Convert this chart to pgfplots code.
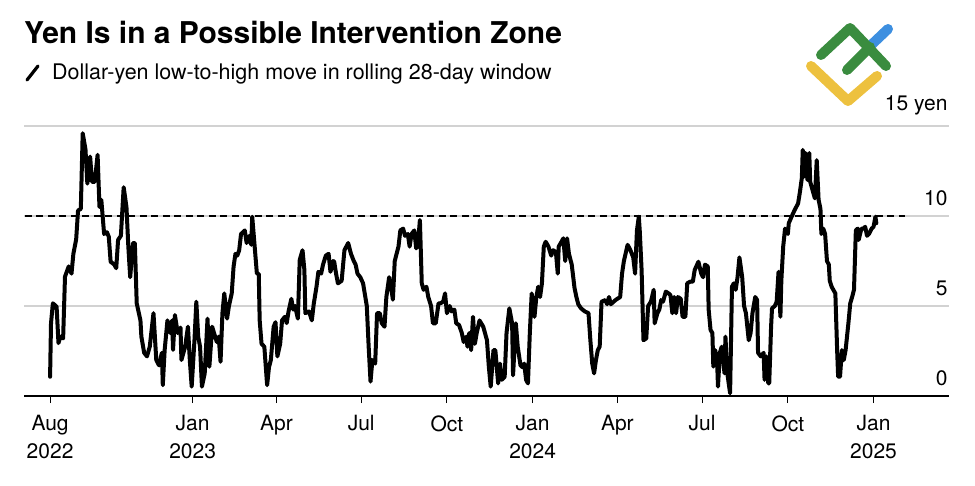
\documentclass[border=0pt]{standalone}
\usepackage{pgfplots}
\pgfplotsset{compat=1.18}
\usepackage{pgfplotstable}
\usepackage{fontspec}
\setmainfont{TeX Gyre Heros}
\definecolor{gridgray}{HTML}{D2D2D2}
\definecolor{logogreen}{HTML}{3A8C3F}
\definecolor{logoblue}{HTML}{3D8FE0}
\definecolor{logoyellow}{HTML}{EDC13F}
\pgfplotstableread{
day val
0 1.07
1 4.05
3 5.15
7 4.96
9 2.94
11 3.3
14 3.2
16 6.63
20 7.2
23 6.8
25 7.9
28 8.7
30 10.3
33 10.4
35 14.6
38 13.7
40 11.8
43 13.3
45 11.9
48 11.9
51 13.4
53 10.5
55 10.9
58 9.0
61 9.1
63 8.85
65 7.46
69 7.3
71 7.1
73 8.67
76 8.9
79 11.6
82 10.5
84 8.3
86 6.6
89 8.5
91 8.5
93 5.15
97 4.2
98 3.3
101 2.4
104 2.2
107 2.74
111 4.6
114 2.0
117 1.7
120 2.4
121 0.6
123 2.56
126 4.2
129 3.5
131 4.2
132 2.56
134 4.5
137 3.5
140 3.8
141 2.0
145 2.74
148 3.85
150 2.0
152 0.52
155 3.1
157 5.24
159 3.3
161 2.74
163 0.52
166 1.26
169 4.3
171 1.63
174 3.85
176 3.5
179 3.0
181 3.3
183 1.9
185 4.6
187 5.7
190 4.3
192 5.0
195 5.7
197 7.2
199 7.9
201 7.8
203 8.1
205 9.0
209 9.2
211 8.5
214 8.9
216 8.4
217 9.96
219 8.7
222 6.8
224 6.8
225 4.2
227 2.9
230 2.74
233 0.6
235 1.6
237 2.0
240 3.85
242 4.1
244 2.2
247 2.9
249 4.2
252 4.4
254 4.05
256 4.7
259 5.4
261 4.8
263 5.0
266 4.3
268 7.56
271 8.1
273 7.0
274 4.6
278 4.7
281 4.2
283 5.1
286 6.07
288 6.9
291 6.8
293 7.3
296 7.8
299 7.9
301 6.9
304 7.5
305 7.46
307 6.8
309 6.26
313 6.4
316 8.1
320 8.5
323 7.9
326 7.5
328 7.3
330 6.8
333 6.6
336 6.26
340 5.0
342 2.74
344 0.8
346 2.0
349 1.8
351 4.6
354 4.6
356 4.05
359 3.85
361 5.5
364 6.6
366 6.07
368 5.35
370 7.5
374 8.3
376 9.2
379 9.3
381 8.9
384 9.0
386 8.3
388 9.0
391 9.2
393 8.2
395 8.5
397 9.78
399 6.26
401 5.9
404 6.07
406 5.5
409 5.0
411 4.04
414 4.04
417 5.15
419 5.15
422 5.24
424 5.7
426 4.6
429 5.0
431 4.7
434 4.8
436 4.04
439 3.95
442 3.5
444 3.0
447 3.3
448 2.74
450 3.5
452 2.55
454 4.4
456 2.9
458 3.5
461 4.2
465 3.85
469 3.1
471 1.63
473 0.52
476 2.55
478 2.55
481 0.7
483 1.8
485 0.9
488 1.07
490 3.5
493 4.87
496 4.04
497 1.15
500 4.04
502 2.74
505 1.7
507 1.6
509 1.8
511 0.9
513 0.7
515 3.5
517 5.7
520 4.4
522 5.5
524 6.07
526 5.5
528 6.26
530 8.3
532 8.57
535 8.3
538 7.8
540 8.1
543 8.0
545 6.8
546 8.3
549 8.57
551 8.76
553 7.5
555 8.76
557 7.9
560 7.3
563 6.0
565 5.5
567 5.1
570 4.87
574 4.7
578 4.6
580 3.1
582 1.8
584 1.26
586 2.0
588 2.55
590 2.74
592 5.24
596 5.33
598 5.1
600 5.5
602 5.1
605 5.24
607 5.33
609 5.4
612 5.5
614 6.8
616 7.5
620 8.4
623 8.1
626 7.7
628 6.8
630 9.2
632 9.96
633 9.2
635 7.0
637 3.1
640 3.2
642 5.0
645 5.24
648 5.9
649 4.04
652 4.6
654 4.8
656 5.33
658 5.24
661 5.8
664 5.7
666 5.6
668 4.6
670 5.5
672 4.6
674 5.5
677 5.4
679 4.4
682 4.4
684 6.26
687 6.35
690 6.35
692 7.0
696 7.46
699 6.8
701 6.6
703 7.3
706 7.2
707 4.8
709 3.67
711 3.5
712 1.63
714 2.55
716 2.0
717 0.52
719 2.4
721 2.74
724 1.26
725 3.3
727 1.26
730 0.15
732 6.07
734 6.26
736 5.9
738 6.6
740 7.7
743 6.6
745 5.0
747 4.6
750 3.1
752 3.5
754 4.6
757 5.5
759 5.33
760 2.4
763 2.2
766 2.4
767 0.9
769 2.2
771 0.7
772 0.7
774 3.85
775 4.87
778 5.0
780 5.24
782 6.9
784 4.4
785 6.4
787 8.3
789 9.3
792 9.0
793 9.6
796 9.96
799 10.3
803 10.7
805 11.35
807 12.1
808 13.67
810 12.2
811 13.5
813 12.0
815 13.5
816 11.9
819 11.35
821 10.98
823 13.1
825 10.9
827 10.4
828 9.0
830 9.3
832 9.0
834 7.5
836 7.3
837 6.4
839 6.07
843 5.7
845 2.4
846 1.07
848 1.07
850 2.55
852 2.0
854 2.55
857 4.04
859 5.15
861 5.5
863 5.9
865 9.2
867 9.3
868 8.67
871 9.3
873 9.3
875 9.4
877 8.9
879 9.0
882 9.3
884 9.4
886 9.96
887 9.6
}\yendata
\begin{document}
\begin{tikzpicture}
\path[use as bounding box] (0pt,0pt) rectangle (975pt,-485pt);
% title and subtitle
\node[anchor=base west, inner sep=0pt, font=\fontsize{30}{36}\selectfont\bfseries] at (24pt,-43pt) {Yen Is in a Possible Intervention Zone};
\draw[line width=3.2pt, line cap=round] (27pt,-80pt) -- (38pt,-66pt);
\node[anchor=base west, inner sep=0pt, font=\fontsize{21.5}{26}\selectfont] at (52pt,-79pt) {Dollar-yen low-to-high move in rolling 28-day window};
% logo
\draw[logoyellow, line width=10pt, line cap=round, line join=round] (811pt,-66pt) -- (848pt,-101pt) -- (877pt,-76pt);
\draw[logoblue, line width=10pt, line cap=round] (868pt,-48pt) -- (888pt,-29pt);
\draw[logogreen, line width=10pt, line cap=round, line join=round] (821pt,-55pt) -- (850pt,-28pt) -- (886pt,-66pt);
\draw[logogreen, line width=10pt, line cap=round] (847pt,-70pt) -- (870pt,-47pt);
\begin{axis}[
  at={(24pt,-396pt)}, anchor=south west,
  scale only axis, width=925pt, height=270pt,
  xmin=-28, xmax=965, ymin=0, ymax=15,
  clip=false,
  axis x line*=bottom, axis y line*=right,
  x axis line style={line width=1.6pt, black},
  y axis line style={draw=none},
  xtick={0,153,243,334,426,518,609,700,792,884},
  xticklabels={{Aug\\2022},{Jan\\2023},Apr,Jul,Oct,{Jan\\2024},Apr,Jul,Oct,{Jan\\2025}},
  xticklabel style={font=\fontsize{21}{27.5}\selectfont, align=center, anchor=north, yshift=-9pt},
  tick align=outside,
  x tick style={line width=1pt, black},
  xtick pos=bottom,
  major tick length=7pt,
  ytick={0,5,10,15},
  yticklabels={0,5,10,15 yen},
  y tick style={draw=none},
  yticklabel pos=right,
  yticklabel style={font=\fontsize{21}{24}\selectfont, anchor=south east, xshift=-5pt, yshift=7pt},
  ymajorgrids, grid style={gridgray, line width=1.5pt},
]
\addplot[black, line width=2pt, dash pattern=on 7pt off 4.5pt] coordinates {(-27,10) (918,10)};
\addplot[black, line width=4pt, line join=round, line cap=round] table[x=day, y=val] {\yendata};
\end{axis}
\end{tikzpicture}
\end{document}
